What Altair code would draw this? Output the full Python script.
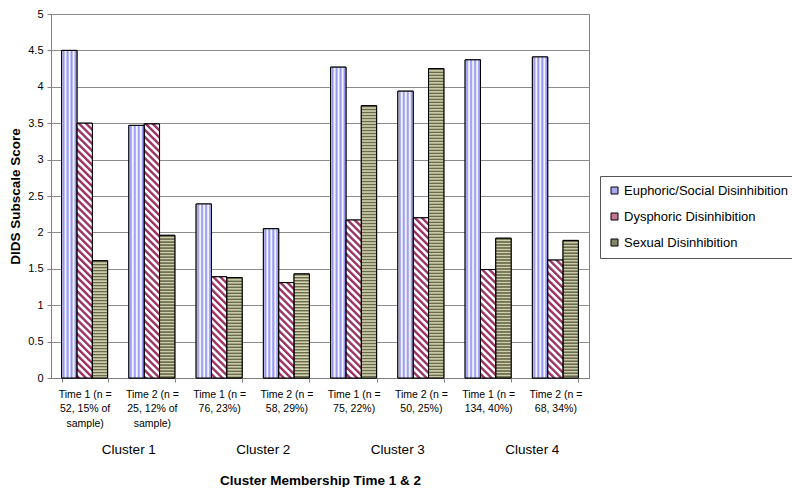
import base64
import altair as alt
import pandas as pd

# ---------------- data ----------------
groups = [
    "Time 1 (n =|52, 15% of|sample)",
    "Time 2 (n =|25, 12% of|sample)",
    "Time 1 (n =|76, 23%)",
    "Time 2 (n =|58, 29%)",
    "Time 1 (n =|75, 22%)",
    "Time 2 (n =|50, 25%)",
    "Time 1 (n =|134, 40%)",
    "Time 2 (n =|68, 34%)",
]
clusters = ["Cluster 1", "Cluster 2", "Cluster 3", "Cluster 4"]
series = [
    "Euphoric/Social Disinhibition",
    "Dysphoric Disinhibition",
    "Sexual Disinhibition",
]
euphoric = [4.50, 3.47, 2.39, 2.05, 4.27, 3.94, 4.37, 4.41]
dysphoric = [3.50, 3.49, 1.39, 1.31, 2.17, 2.20, 1.49, 1.62]
sexual = [1.61, 1.96, 1.38, 1.43, 3.74, 4.25, 1.92, 1.89]
y_ticks = [0, 0.5, 1, 1.5, 2, 2.5, 3, 3.5, 4, 4.5, 5]

rows = []
for name, vals in zip(series, [euphoric, dysphoric, sexual]):
    for g, v in zip(groups, vals):
        rows.append({"group": g, "series": name, "score": v})
df = pd.DataFrame(rows)
# each cluster label sits at the boundary before its "Time 2" group
cl_df = pd.DataFrame({"cluster": clusters, "group": groups[1::2]})

# ---------------- styles ----------------
FONT = "Liberation Sans"
legend_colors = ["#a8a8f4", "#c27797", "#85856a"]


def svg_uri(pattern):
    svg = (
        '<svg xmlns="http://www.w3.org/2000/svg" width="100%" height="100%">'
        "<defs>" + pattern + "</defs>"
        '<rect width="100%" height="100%" fill="url(#p)"/></svg>'
    )
    return "data:image/svg+xml;base64," + base64.b64encode(svg.encode()).decode()


patterns = [
    svg_uri(
        '<pattern id="p" width="4" height="8" patternUnits="userSpaceOnUse">'
        '<rect width="4" height="8" fill="#f4f4ff"/>'
        '<rect x="1" width="1.9" height="8" fill="#9494f0"/></pattern>'
    ),
    svg_uri(
        '<pattern id="p" width="5" height="5" patternUnits="userSpaceOnUse" '
        'patternTransform="rotate(-45)">'
        '<rect width="5" height="5" fill="#ffffff"/>'
        '<rect width="2.4" height="5" fill="#993366"/></pattern>'
    ),
    svg_uri(
        '<pattern id="p" width="8" height="3" patternUnits="userSpaceOnUse">'
        '<rect width="8" height="3" fill="#d6d6b4"/>'
        '<rect width="8" height="1.6" fill="#6a6a4c"/></pattern>'
    ),
]

H = 364
x_scale = alt.Scale(domain=groups, paddingInner=0.316, paddingOuter=0.158)
x_axis = alt.Axis(
    labelExpr="split(datum.label, '|')",
    labelFontSize=10.5,
    labelLineHeight=14.5,
    labelPadding=7,
    labelAngle=0,
    tickSize=4,
    tickBand="extent",
    grid=False,
    titleFontSize=13.5,
    titleFontWeight="bold",
    titleX=269,
    titleY=102,
    titleBaseline="middle",
)


def x_enc(**kw):
    return alt.X(
        "group:N",
        scale=x_scale,
        title="Cluster Membership Time 1 & 2",
        axis=x_axis,
        **kw,
    )


xo_enc = alt.XOffset(
    "series:N", scale=alt.Scale(domain=series, paddingInner=0, paddingOuter=0)
)
y_enc = alt.Y(
    "score:Q",
    scale=alt.Scale(domain=[0, 5], nice=False),
    title="DIDS Subscale Score",
    axis=alt.Axis(
        values=y_ticks,
        format="~g",
        labelFontSize=11,
        tickSize=4,
        labelPadding=4,
        grid=True,
        titleFontSize=13.5,
        titleFontWeight="bold",
        titleX=-36,
        titleY=H / 2,
        titleBaseline="middle",
    ),
)

base = alt.Chart(df)

bars = base.mark_bar(stroke="black", strokeWidth=1).encode(
    x=x_enc(),
    xOffset=xo_enc,
    y=y_enc,
    color=alt.Color(
        "series:N",
        scale=alt.Scale(domain=series, range=legend_colors),
        legend=alt.Legend(
            title=None,
            orient="none",
            legendX=549,
            legendY=162,
            direction="vertical",
            symbolType="square",
            symbolSize=49,
            symbolStrokeColor="black",
            symbolStrokeWidth=1,
            labelFontSize=13,
            labelOffset=3,
            labelLimit=300,
            rowPadding=12,
            padding=8,
            strokeColor="#555555",
            fillColor="white",
        ),
    ),
)

images = [
    base.transform_filter(alt.datum.series == name)
    .mark_image(aspect=False)
    .encode(x=x_enc(), xOffset=xo_enc, y=y_enc, y2=alt.datum(0), url=alt.value(uri))
    for name, uri in zip(series, patterns)
]

outline = base.mark_bar(fillOpacity=0, stroke="black", strokeWidth=1).encode(
    x=x_enc(), xOffset=xo_enc, y=y_enc
)

cluster_labels = (
    alt.Chart(cl_df)
    .mark_text(fontSize=13.5, baseline="middle", align="center", color="black")
    .encode(
        x=x_enc(bandPosition=0),
        y=alt.value(H + 72),
        text="cluster:N",
    )
)

chart = (
    alt.layer(bars, *images, outline, cluster_labels)
    .properties(
        width=538,
        height=H,
        autosize=alt.AutoSizeParams(type="none"),
        padding={"left": 43, "top": 6, "right": 203, "bottom": 109},
    )
    .configure(font=FONT)
    .configure_view(stroke="#808080", strokeWidth=1)
    .configure_axis(
        gridColor="#8c8c8c",
        gridWidth=1,
        domainColor="#808080",
        tickColor="#808080",
        labelColor="black",
        titleColor="black",
        labelFont=FONT,
        titleFont=FONT,
    )
    .configure_legend(labelFont=FONT, labelColor="black")
)

chart.save("out.html", embed_options={"renderer": "svg", "actions": False})
